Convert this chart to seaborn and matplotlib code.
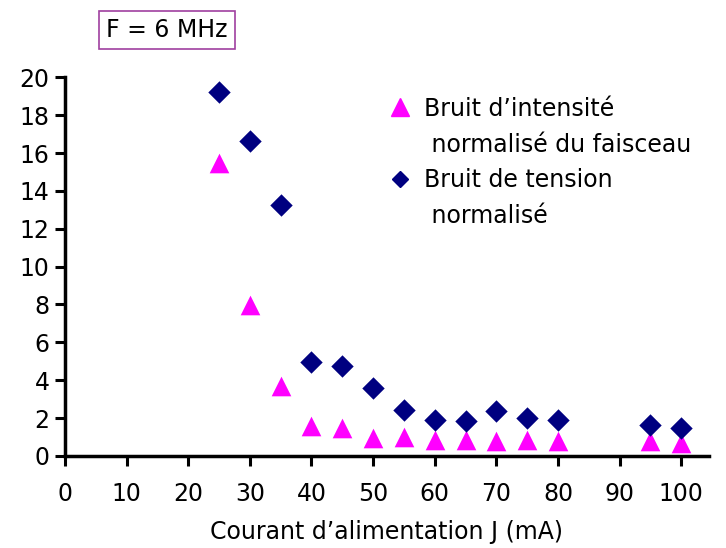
import matplotlib
matplotlib.use("Agg")
import matplotlib.pyplot as plt
from matplotlib.lines import Line2D
import seaborn as sns

# Courant d'alimentation J (mA)
courant = [25, 30, 35, 40, 45, 50, 55, 60, 65, 70, 75, 80, 95, 100]
# Bruit d'intensité normalisé du faisceau
bruit_intensite = [15.45, 7.95, 3.7, 1.57, 1.48, 0.93, 0.98, 0.86, 0.86, 0.77, 0.86, 0.8, 0.77, 0.7]
# Bruit de tension normalisé
bruit_tension = [19.24, 16.65, 13.24, 4.95, 4.74, 3.6, 2.4, 1.92, 1.87, 2.37, 2.0, 1.92, 1.64, 1.46]

x_ticks = list(range(0, 101, 10))
y_ticks = list(range(0, 21, 2))

MAGENTA = "#ff00ff"
NAVY = "#000080"

sns.set_theme(style="white")
plt.rcParams["font.family"] = ["DejaVu Sans"]
plt.rcParams["text.color"] = "black"
plt.rcParams["axes.labelcolor"] = "black"
plt.rcParams["xtick.color"] = "black"
plt.rcParams["ytick.color"] = "black"

fig = plt.figure(figsize=(7.26, 5.48), dpi=100)
ax = fig.add_axes([0.0895, 0.168, 0.887, 0.691])

sns.scatterplot(x=courant, y=bruit_intensite, color=MAGENTA, marker="^",
                s=200, linewidth=0, ax=ax, clip_on=False)
sns.scatterplot(x=courant, y=bruit_tension, color=NAVY, marker="D",
                s=130, linewidth=0, ax=ax, clip_on=False)

ax.set_xlim(0, 104.5)
ax.set_ylim(0, 20)
ax.set_xticks(x_ticks)
ax.set_yticks(y_ticks)
ax.tick_params(axis="both", direction="out", length=7, width=2.2,
               color="black", labelsize=17, left=True, bottom=True)
ax.tick_params(axis="x", pad=12)
ax.tick_params(axis="y", pad=4)
for side in ["top", "right"]:
    ax.spines[side].set_visible(False)
for side in ["left", "bottom"]:
    ax.spines[side].set_color("black")
    ax.spines[side].set_linewidth(2.5)

ax.set_xlabel("Courant d’alimentation J (mA)", fontsize=17, labelpad=10)
ax.set_ylabel("")

handles = [
    Line2D([], [], marker="^", color=MAGENTA, linestyle="", markersize=13),
    Line2D([], [], linestyle="", marker=None),
    Line2D([], [], marker="D", color=NAVY, linestyle="", markersize=8),
    Line2D([], [], linestyle="", marker=None),
]
labels = ["Bruit d’intensité", " normalisé du faisceau", "Bruit de tension", " normalisé"]
fig.legend(handles, labels, loc="upper left", bbox_to_anchor=(0.52, 0.845),
           frameon=False, fontsize=17, handlelength=0.9, handletextpad=0.55,
           labelspacing=0.5, borderpad=0)

fig.text(0.230, 0.945, "F = 6 MHz", fontsize=17, ha="center", va="center",
         bbox=dict(boxstyle="square,pad=0.3", facecolor="white",
                   edgecolor="#a040a0", linewidth=1.2))

fig.savefig("out.png", dpi=100)
